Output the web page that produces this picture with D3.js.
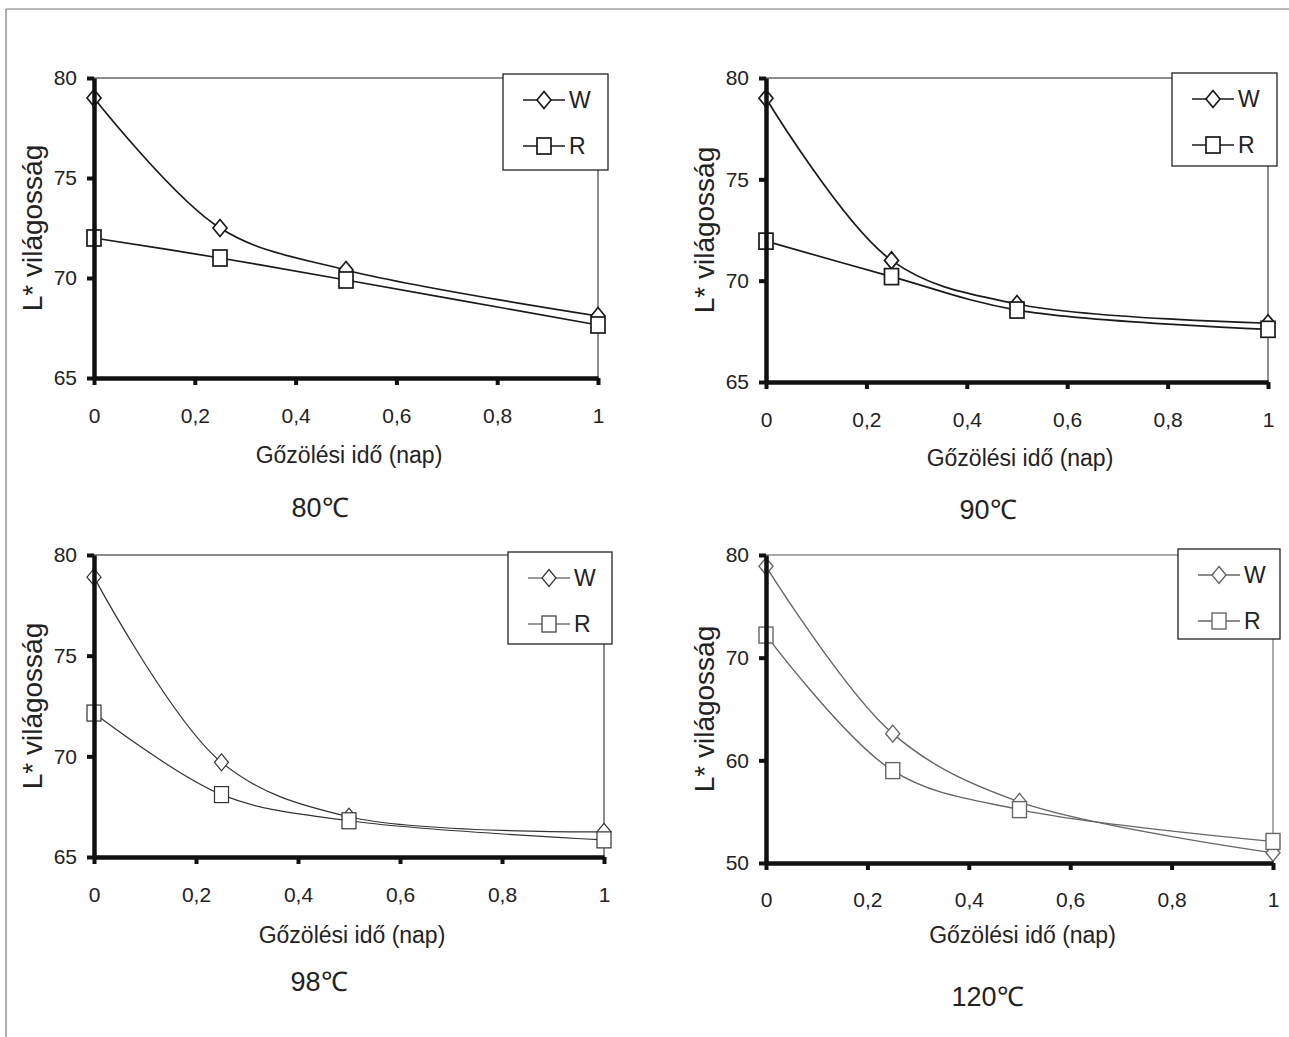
<!DOCTYPE html>
<html>
<head>
<meta charset="utf-8">
<script src="https://cdn.jsdelivr.net/npm/d3@7/dist/d3.min.js"></script>
<style>
  html, body { margin: 0; padding: 0; background: #fff; }
  svg { display: block; }
  text { font-family: "Liberation Sans", Arial, sans-serif; fill: #222; }
</style>
</head>
<body>
<svg id="chart" width="1289" height="1037"></svg>
<script>
// ---------- data ----------
const xDays = [0, 0.25, 0.5, 1];
const xTickValues = [0, 0.2, 0.4, 0.6, 0.8, 1];
const xTickLabels = ["0", "0,2", "0,4", "0,6", "0,8", "1"];
const yTicksA = [65, 70, 75, 80];
const yTicksB = [50, 60, 70, 80];
const w80 = [79.0, 72.5, 70.4, 68.1];
const r80 = [72.0, 71.0, 69.9, 67.65];
const w90 = [79.0, 71.0, 68.85, 67.9];
const r90 = [71.95, 70.2, 68.55, 67.6];
const w98 = [78.9, 69.7, 67.0, 66.25];
const r98 = [72.15, 68.1, 66.8, 65.85];
const w120 = [78.9, 62.6, 55.95, 51.0];
const r120 = [72.2, 59.0, 55.2, 52.1];
const seriesNames = ["W", "R"];
const panelTitles = ["80℃", "90℃", "98℃", "120℃"];
const xAxisTitle = "Gőzölési idő (nap)";
const yAxisTitle = "L* világosság";

// ---------- layout ----------
const panels = [
  { W: w80, R: r80, yDom: [65, 80], yTicks: yTicksA, x0: 94, x1: 598, yT: 78, yB: 378,
    leg: [503, 74, 105, 96], line: "#1a1a1a", lw: 1.7, frame: "#1a1a1a", fw: 1,
    tLab: 45, tTitle: 85, tSub: [-26, 139] },
  { W: w90, R: r90, yDom: [65, 80], yTicks: yTicksA, x0: 766, x1: 1268, yT: 78, yB: 382,
    leg: [1172, 73, 105, 93], line: "#1a1a1a", lw: 1.7, frame: "#1a1a1a", fw: 1,
    tLab: 45, tTitle: 84, tSub: [-29, 137] },
  { W: w98, R: r98, yDom: [65, 80], yTicks: yTicksA, x0: 94, x1: 604, yT: 555, yB: 857,
    leg: [508, 552, 104, 92], line: "#333", lw: 1.2, frame: "#1a1a1a", fw: 1,
    tLab: 45, tTitle: 86, tSub: [-30, 134] },
  { W: w120, R: r120, yDom: [50, 80], yTicks: yTicksB, x0: 766, x1: 1273, yT: 555, yB: 863,
    leg: [1178, 549, 102, 90], line: "#666", lw: 1.4, frame: "#aaa", fw: 2,
    tLab: 44, tTitle: 80, tSub: [-32, 143] }
];

const svg = d3.select("#chart");

// page frame
svg.append("line").attr("x1", 6).attr("x2", 1289).attr("y1", 9).attr("y2", 9)
  .attr("stroke", "#777").attr("stroke-width", 1.2);
svg.append("line").attr("x1", 6).attr("x2", 6).attr("y1", 9).attr("y2", 1037)
  .attr("stroke", "#777").attr("stroke-width", 1.2);

function diamond(g, cx, cy, color, sw) {
  g.append("path")
    .attr("d", `M${cx},${cy - 8.5}L${cx + 7},${cy}L${cx},${cy + 8.5}L${cx - 7},${cy}Z`)
    .attr("fill", "#fff").attr("stroke", color).attr("stroke-width", sw);
}
function square(g, cx, cy, color, sw) {
  g.append("rect").attr("x", cx - 7).attr("y", cy - 8).attr("width", 14).attr("height", 16)
    .attr("fill", "#fff").attr("stroke", color).attr("stroke-width", sw);
}

panels.forEach((p, i) => {
  const g = svg.append("g");
  const x = d3.scaleLinear().domain([0, 1]).range([p.x0, p.x1]);
  const y = d3.scaleLinear().domain(p.yDom).range([p.yB, p.yT]);

  // top & right frame
  g.append("path")
    .attr("d", `M${p.x0},${p.yT}H${p.x1}V${p.yB}`)
    .attr("fill", "none").attr("stroke", p.frame).attr("stroke-width", p.fw);

  const [lx, ly, lw, lh] = p.leg;

  // series
  const line = d3.line().x((d, k) => x(xDays[k])).y(d => y(d)).curve(d3.curveCatmullRom.alpha(0.5));
  [p.W, p.R].forEach(vals => {
    g.append("path").attr("d", line(vals)).attr("fill", "none")
      .attr("stroke", p.line).attr("stroke-width", p.lw);
  });
  p.W.forEach((v, k) => diamond(g, x(xDays[k]), y(v), p.line, p.lw));
  p.R.forEach((v, k) => square(g, x(xDays[k]), y(v), p.line, p.lw));

  // axes
  const yAxis = d3.axisLeft(y).tickValues(p.yTicks).tickSize(7).tickSizeOuter(0).tickPadding(10);
  const ya = g.append("g").attr("transform", `translate(${p.x0},0)`).call(yAxis);
  const xAxis = d3.axisBottom(x).tickValues(xTickValues).tickSize(7).tickSizeOuter(0).tickPadding(23)
    .tickFormat((d, k) => xTickLabels[k]);
  const xa = g.append("g").attr("transform", `translate(0,${p.yB})`).call(xAxis);
  [ya, xa].forEach(a => {
    a.select(".domain").attr("stroke", "#111").attr("stroke-width", 4.5);
    a.selectAll(".tick line").attr("stroke", "#111").attr("stroke-width", 4);
    a.selectAll(".tick text").attr("font-size", 21).attr("fill", "#222")
      .attr("font-family", "Liberation Sans, Arial, sans-serif");
  });
  xa.selectAll(".tick text").attr("y", null).attr("dy", null)
    .attr("transform", `translate(0,${p.tLab})`);

  // legend
  g.append("rect").attr("x", lx).attr("y", ly).attr("width", lw).attr("height", lh)
    .attr("fill", "#fff").attr("stroke", "#222").attr("stroke-width", 1.3);
  seriesNames.forEach((name, k) => {
    const cy = ly + (k === 0 ? 26 : 72);
    g.append("line").attr("x1", lx + 20).attr("x2", lx + 62).attr("y1", cy).attr("y2", cy)
      .attr("stroke", p.line).attr("stroke-width", p.lw);
    if (k === 0) diamond(g, lx + 41, cy, p.line, p.lw); else square(g, lx + 41, cy, p.line, p.lw);
    g.append("text").attr("x", lx + 66).attr("y", cy + 8).attr("font-size", 23).text(name);
  });

  // axis titles
  const cxPlot = (p.x0 + p.x1) / 2;
  g.append("text").attr("x", cxPlot + 3).attr("y", p.yB + p.tTitle)
    .attr("text-anchor", "middle").attr("font-size", 23).text(xAxisTitle);
  g.append("text")
    .attr("transform", `translate(${p.x0 - 52},${(p.yT + p.yB) / 2}) rotate(-90)`)
    .attr("text-anchor", "middle").attr("font-size", 28).text(yAxisTitle);
  g.append("text").attr("x", cxPlot + p.tSub[0]).attr("y", p.yB + p.tSub[1])
    .attr("text-anchor", "middle").attr("font-size", 27).text(panelTitles[i]);
});
</script>
</body>
</html>
